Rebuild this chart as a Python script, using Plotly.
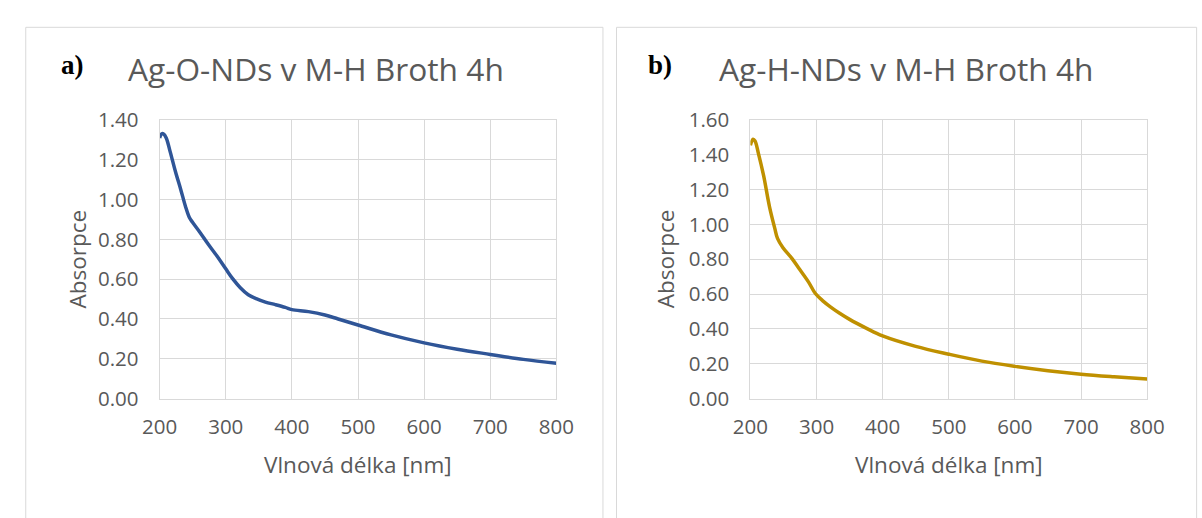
import plotly.graph_objects as go

# ---- data ----
wl_o = [200, 203, 206, 210, 216, 224, 232, 239, 245, 250, 260, 273, 287, 300, 311, 322, 334, 346, 360,
        375, 390, 400, 425, 450, 470, 500, 550, 600, 650, 700, 750, 800]
abs_o = [1.31, 1.33, 1.33, 1.31, 1.24, 1.14, 1.05, 0.967, 0.91, 0.885, 0.84, 0.778, 0.715, 0.652, 0.60,
         0.557, 0.522, 0.502, 0.485, 0.472, 0.458, 0.447, 0.437, 0.42, 0.40, 0.37, 0.32, 0.28, 0.248,
         0.222, 0.197, 0.177]

wl_h = [200, 204, 207, 212, 220, 229, 237, 241, 249, 263, 273, 288, 298, 310, 322, 335, 350, 375,
        400, 450, 500, 550, 600, 650, 700, 750, 800]
abs_h = [1.455, 1.49, 1.48, 1.41, 1.28, 1.10, 0.976, 0.92, 0.868, 0.804, 0.75, 0.669, 0.605,
         0.56, 0.524, 0.49, 0.455, 0.405, 0.36, 0.30, 0.255, 0.215, 0.185, 0.16, 0.14, 0.125, 0.112]

x_ticks = [200, 300, 400, 500, 600, 700, 800]
titles = ["Ag-O-NDs v M-H Broth 4h", "Ag-H-NDs v M-H Broth 4h"]
letters = ["a)", "b)"]
x_title = "Vlnová délka [nm]"
y_title = "Absorpce"

W, H = 1202, 518
GRID = "#d9d9d9"
TXT = "#595959"
FONT = "Open Sans"


def px(x):
    return x / W


def py(y):
    return 1 - y / H


fig = go.Figure()
fig.add_trace(go.Scatter(x=wl_o, y=abs_o, mode="lines", line=dict(color="#2F5597", width=3.5, shape="spline"),
                         xaxis="x", yaxis="y", showlegend=False))
fig.add_trace(go.Scatter(x=wl_h, y=abs_h, mode="lines", line=dict(color="#BF9000", width=3.5, shape="spline"),
                         xaxis="x2", yaxis="y2", showlegend=False))

# plot-area pixel positions and text anchors per panel
L = dict(x0=146, x1=555, y0=111, y1=405.5, letter=42, title=111, ytitle=61)
R = dict(x0=755, x1=1164, y0=111, y1=405.5, letter=647, title=721, ytitle=667)

ax_common = dict(showgrid=True, gridcolor=GRID, gridwidth=1, showline=True, linecolor=GRID, linewidth=1,
                 mirror=True, zeroline=False, ticks="", tickfont=dict(family=FONT, size=20.5, color=TXT))

fig.update_layout(
    width=W, height=H, margin=dict(l=0, r=0, t=0, b=0),
    paper_bgcolor="white", plot_bgcolor="white",
    xaxis=dict(domain=[px(L["x0"]), px(L["x1"])], range=[200, 800], tickvals=x_ticks,
               ticklabelstandoff=10, anchor="y", **ax_common),
    yaxis=dict(domain=[py(L["y1"]), py(L["y0"])], range=[0, 1.4], dtick=0.2, tickformat=".2f",
               ticklabelstandoff=16, anchor="x", **ax_common),
    xaxis2=dict(domain=[px(R["x0"]), px(R["x1"])], range=[200, 800], tickvals=x_ticks,
                ticklabelstandoff=10, anchor="y2", **ax_common),
    yaxis2=dict(domain=[py(R["y1"]), py(R["y0"])], range=[0, 1.6], dtick=0.2, tickformat=".2f",
                ticklabelstandoff=16, anchor="x2", **ax_common),
)

# panel borders
for (x0, x1) in [(8, 603), (617, 1215)]:
    fig.add_shape(type="rect", xref="paper", yref="paper", x0=px(x0), x1=px(x1), y0=py(540), y1=py(13),
                  line=dict(color=GRID, width=1), fillcolor="rgba(0,0,0,0)", layer="below")

anns = []
for i, P in enumerate([L, R]):
    anns.append(dict(text="<b>" + letters[i] + "</b>", x=px(P["letter"]), y=py(53), xanchor="left",
                     yanchor="middle", font=dict(family="Liberation Serif", size=27, color="black"),
                     showarrow=False, xref="paper", yref="paper"))
    anns.append(dict(text=titles[i], x=px(P["title"]), y=py(57), xanchor="left", yanchor="middle",
                     font=dict(family=FONT, size=31.7, color=TXT), showarrow=False,
                     xref="paper", yref="paper"))
    anns.append(dict(text=x_title, x=px((P["x0"] + P["x1"]) / 2), y=py(475), xanchor="center",
                     yanchor="middle", font=dict(family=FONT, size=22.5, color=TXT), showarrow=False,
                     xref="paper", yref="paper"))
    anns.append(dict(text=y_title, x=px(P["ytitle"]), y=py((P["y0"] + P["y1"]) / 2), xanchor="center",
                     yanchor="middle", textangle=-90, font=dict(family=FONT, size=22.5, color=TXT),
                     showarrow=False, xref="paper", yref="paper"))
fig.update_layout(annotations=anns)

fig.write_html("out.html", post_script="document.body.style.margin='0';document.body.style.overflow='hidden';")
